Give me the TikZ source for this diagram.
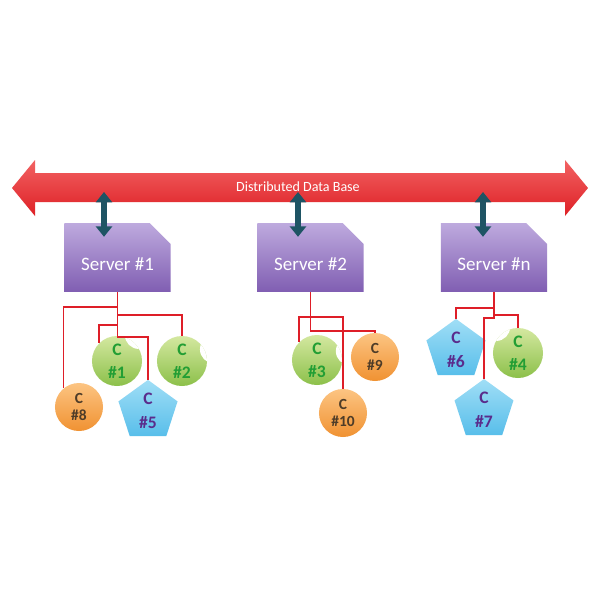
\documentclass[tikz,border=0pt]{standalone}
\usepackage{fontspec}
\setmainfont{Carlito}
\usetikzlibrary{positioning,calc,shapes.geometric,shapes.misc,arrows.meta}

\definecolor{dbtop}{RGB}{242,98,98}
\definecolor{dbbot}{RGB}{222,32,38}
\definecolor{srvtop}{RGB}{190,170,222}
\definecolor{srvbot}{RGB}{128,94,178}
\definecolor{linkcol}{RGB}{30,84,100}
\definecolor{wirecol}{RGB}{222,30,40}
\definecolor{greentop}{RGB}{212,232,160}
\definecolor{greenbot}{RGB}{140,192,74}
\definecolor{greentxt}{RGB}{34,158,52}
\definecolor{orangetop}{RGB}{252,196,130}
\definecolor{orangebot}{RGB}{240,146,50}
\definecolor{orangetxt}{RGB}{78,60,40}
\definecolor{bluetop}{RGB}{160,222,246}
\definecolor{bluebot}{RGB}{88,190,234}
\definecolor{bluetxt}{RGB}{90,44,140}

\begin{document}
\begin{tikzpicture}[
x=0.025cm,
y=-0.025cm,
server/.style={
chamfered rectangle,
chamfered rectangle corners=north east,
chamfered rectangle xsep=0.26cm,
chamfered rectangle ysep=0.26cm,
minimum width=2.65cm,
minimum height=1.72cm,
inner sep=0pt,
top color=srvtop,
bottom color=srvbot,
text=white,
font=\fontsize{13.5}{16}\selectfont,
text height=18pt,
text depth=0pt
},
blob/.style={
circle,
minimum size=1.25cm,
inner sep=0pt,
top color=greentop,
bottom color=greenbot,
text=greentxt,
align=center,
font=\fontsize{12.5}{16.5}\selectfont\bfseries,
path picture={
\fill[white] ($(path picture bounding box.center)+(#1:0.85cm)$) circle (0.35cm);
}
},
disc/.style={
circle,
minimum size=1.2cm,
inner sep=0pt,
top color=orangetop,
bottom color=orangebot,
text=orangetxt,
align=center,
font=\fontsize{11}{12.5}\selectfont\bfseries
},
penta/.style={
regular polygon,
regular polygon sides=5,
minimum size=1.4cm,
inner sep=0pt,
top color=bluetop,
bottom color=bluebot,
text=bluetxt,
align=center,
font=\fontsize{12.5}{17}\selectfont\bfseries
},
link/.style={
{Triangle[width=0.4cm,length=0.26cm]}-{Triangle[width=0.4cm,length=0.26cm]},
line width=0.15cm,
draw=linkcol
},
wire/.style={
draw=wirecol,
line width=1pt
}
]

\fill[white] (0,0) rectangle (600,600);
\useasboundingbox (0,0) rectangle (600,600);


% Data base bar

\path[top color=dbtop, bottom color=dbbot]
(12,188) -- (35,160) -- (35,173) -- (565,173) -- (565,160) -- (588,188)
-- (565,216) -- (565,202) -- (35,202) -- (35,216) -- cycle;

\node (db) at (298,187) [text=white, font=\fontsize{10}{12}\selectfont]
{Distributed Data Base};


% Servers

\node (srv1) [server] at (117.5,257.5) {Server \#1};
\node (srv2) [server] at (310.5,257.5) {Server \#2};
\node (srvn) [server] at (494,257.5) {Server \#n};

\coordinate (tap1) at (104,192);
\coordinate (tap2) at (298,192);
\coordinate (tapn) at (483,192);

\draw[link, shorten >=-0.35cm] (tap1) -- (tap1 |- srv1.north);
\draw[link, shorten >=-0.35cm] (tap2) -- (tap2 |- srv2.north);
\draw[link, shorten >=-0.35cm] (tapn) -- (tapn |- srvn.north);


% Clients of server 1

\node (c1) [blob=50] at (117,361) {C\\\#1};
\node (c2) [blob=20] at (182,361) {C\\\#2};
\node (c8) [disc] at (79,407) {C\\\#8};
\node (c5) [penta] at (148,411) {C\\\#5};

\draw[wire] (srv1.south) -- ++(0,15) -| (c8.130);
\draw[wire] (srv1.south) -- ++(0,23) -| (c2.north);
\draw[wire] (srv1.south) -- ++(0,33) -| (c1.136);
\draw[wire] (srv1.south) -- ++(0,45) -| (c5.north);


% Clients of server 2

\node (c3) [blob=15] at (317,360) {C\\\#3};
\node (c9) [disc] at (375,357) {C\\\#9};
\node (c10) [disc] at (343,413) {C\\\#10};

\draw[wire] (srv2.south) -- ++(0,25) -| (c3.136);
\draw[wire] (srv2.south) -- ++(0,25) -| (c10.north);
\draw[wire] (srv2.south) -- ++(0,39) -| (c9.north);


% Clients of server n

\node (c6) [penta] at (456,350) {C\\\#6};
\node (c4) [blob=130] at (518,353) {C\\\#4};
\node (c7) [penta] at (484,410) {C\\\#7};

\draw[wire] (srvn.south) -- ++(0,16) -| (c6.north);
\draw[wire] (srvn.south) -- ++(0,23) -| (c4.north);
\draw[wire] (srvn.south) -- ++(0,26) -| (c7.north);


\end{tikzpicture}
\end{document}
